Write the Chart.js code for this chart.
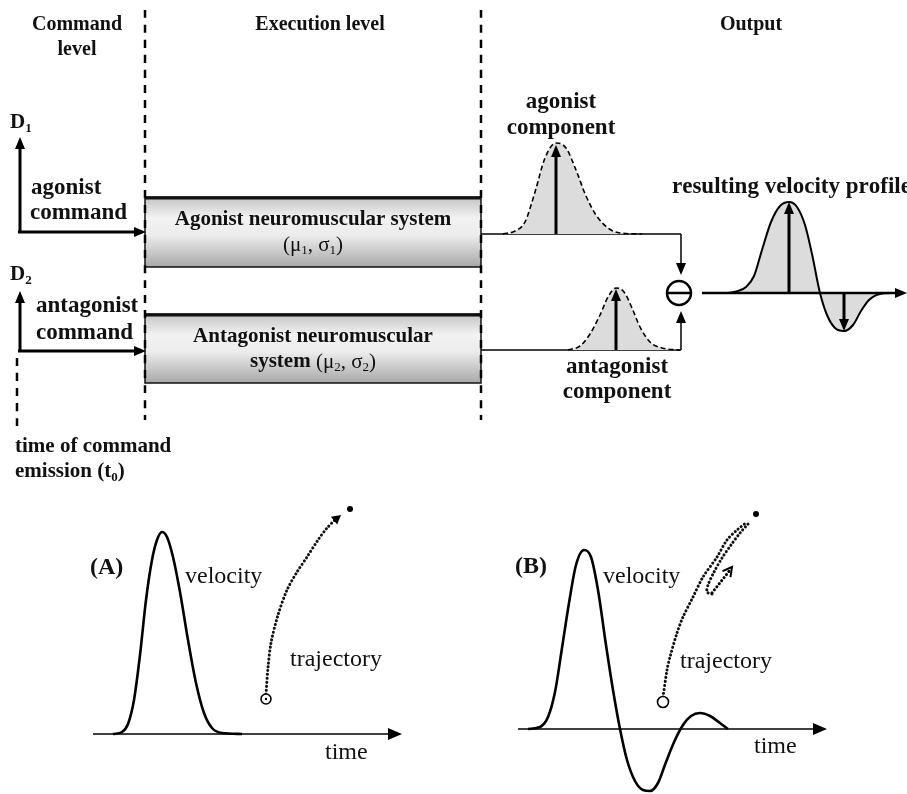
<!DOCTYPE html>
<html>
<head>
<meta charset="utf-8">
<script src="https://cdn.jsdelivr.net/npm/chart.js@4.4.1/dist/chart.umd.min.js"></script>
<style>
    html, body { margin: 0; padding: 0; background: #fff; }
    #diagram { display: block; }
</style>
</head>
<body>
<canvas id="diagram" width="907" height="794"></canvas>
<script>
// Curves, as [x, y] in page pixels (y grows downwards)
const agonistBell = [[503,234],[515,231],[525,222],[535,192],[545,158],[556,143],[566,148],[576,170],[586,196],[596,215],[608,228],[620,233],[642,234]];
const antagonistBell = [[568,350],[580,346],[590,334],[600,315],[608,297],[616,288],[624,292],[632,308],[640,327],[650,342],[662,348],[680,350]];
const resultProfile = [[728,293],[738,291],[746,287],[754,276],[762,250],[771,222],[780,206],[789,202],[797,207],[805,225],[812,254],[820,293],[827,315],[835,328],[844,331],[853,325],[861,311],[869,300],[880,294],[895,293]];
const velocityA = [[113,734],[122,732],[128,724],[134,700],[140,655],[146,600],[152,560],[157,540],[162,532],[167,537],[173,557],[180,592],[188,640],[196,683],[204,713],[212,728],[222,733],[242,734]];
const velocityB = [[528,729],[540,727],[548,717],[555,692],[562,648],[569,603],[576,565],[584,550],[591,557],[598,590],[606,645],[613,690],[620,729],[627,760],[635,781],[643,790],[650,791],[658,783],[666,762],[675,740],[683,725],[691,716],[700,713],[710,716],[720,723],[728,729]];
const trajectoryA = [[266,694],[268,668],[271,643],[278,615],[287,590],[297,572],[307,557],[318,540],[327,528],[338,517]];
const trajectoryB = [[663,697],[667,670],[670,657],[677,633],[683,617],[693,597],[703,577],[717,557],[727,540],[737,530],[747,522]];
const trajectoryBBack = [[748,524],[740,533],[731,545],[722,558],[714,572],[708,585],[707,592],[712,594]];

// Dashed level separators
const separators = [[[145,10],[145,420]], [[481,10],[481,420]], [[17,358],[17,432]]];
// Plain connector lines from the systems to the comparator
const connectors = [[[481,234],[681,234]], [[481,350],[681,350]]];

// Boxes: x1, y1, x2, y2
const boxes = [[145,197,481,267], [145,314,481,383]];

// Arrows: x1, y1, x2, y2, line width, head length, head half width
const arrows = [
    [20,233,20,137,3,12,5], [18,232,146,232,3,12,5],
    [20,352,20,291,3,12,5], [18,351,146,351,3,12,5],
    [681,234,681,275,1.5,12,5], [681,350,681,311,1.5,12,5],
    [556,234,556,145,3,12,5], [616,350,616,289,3,12,5],
    [789,293,789,202,3,12,5], [844,293,844,331,3,12,5],
    [702,293,907,293,2.5,12,5],
    [93,734,402,734,1.3,14,6], [518,729,827,729,1.3,14,6]
];
// Small heads at the end of dotted trajectories: tip, direction from
const trajHeads = [[341,515,330,524,'fill'], [732,567,722,580,'open']];

// Start / end points of trajectories: x, y, radius, kind
const markers = [[266,699,5,'ring-dot'], [350,509,3,'dot'], [663,702,5.5,'ring'], [756,514,3,'dot']];

// Texts: runs (_x = subscript x), x, y, font, align
const SERIF = '"Liberation Serif", "Times New Roman", serif';
const HEAD = 'bold 20px ' + SERIF;
const BOX = 'bold 21px ' + SERIF;
const BOXREG = '21px ' + SERIF;
const LABEL = 'bold 23px ' + SERIF;
const NOTE = 'bold 21px ' + SERIF;
const PLAIN = '24px ' + SERIF;
const PANEL = 'bold 24px ' + SERIF;
const texts = [
    ['Command', 77, 25, HEAD, 'center'], ['level', 77, 50, HEAD, 'center'],
    ['Execution level', 320, 25, HEAD, 'center'], ['Output', 751, 25, HEAD, 'center'],
    ['D_1', 10, 123, NOTE, 'left'], ['agonist', 31, 188, LABEL, 'left'], ['command', 30, 213, LABEL, 'left'],
    ['D_2', 10, 275, NOTE, 'left'], ['antagonist', 36, 306, LABEL, 'left'], ['command', 36, 333, LABEL, 'left'],
    ['time of command', 15, 447, NOTE, 'left'], ['emission (t_0)', 15, 472, NOTE, 'left'],
    ['Agonist neuromuscular system', 313, 220, BOX, 'center'], ['(μ_1, σ_1)', 313, 245, BOXREG, 'center'],
    ['Antagonist neuromuscular', 313, 337, BOX, 'center'],
    ['agonist', 561, 102, LABEL, 'center'], ['component', 561, 128, LABEL, 'center'],
    ['antagonist', 617, 367, LABEL, 'center'], ['component', 617, 392, LABEL, 'center'],
    ['resulting velocity profile', 672, 187, LABEL, 'left'],
    ['(A)', 90, 568, PANEL, 'left'], ['velocity', 185, 577, PLAIN, 'left'],
    ['trajectory', 290, 660, PLAIN, 'left'], ['time', 325, 753, PLAIN, 'left'],
    ['(B)', 515, 567, PANEL, 'left'], ['velocity', 603, 577, PLAIN, 'left'],
    ['trajectory', 680, 662, PLAIN, 'left'], ['time', 754, 747, PLAIN, 'left']
];
// Mixed-weight line in the antagonist box
const mixedLine = [['system ', BOX], ['(μ_2, σ_2)', BOXREG]];

document.addEventListener('DOMContentLoaded', function() {
    const ctxEl = document.getElementById('diagram');
    const pts = arr => arr.map(p => ({x: p[0], y: p[1]}));

    function curve(data, opts) {
        return Object.assign({
            data: pts(data),
            showLine: true,
            borderColor: '#000',
            borderWidth: 2.5,
            pointRadius: 0,
            fill: false,
            tension: 0.4,
            cubicInterpolationMode: 'monotone'
        }, opts || {});
    }

    const dotted = {borderWidth: 3, borderDash: [0.1, 3.8], borderCapStyle: 'round', tension: 0.3, cubicInterpolationMode: 'default', borderColor: '#111'};

    const datasets = [
        curve(agonistBell, {borderWidth: 1.6, borderDash: [5, 3], fill: {value: 234}, backgroundColor: '#dcdcdc'}),
        curve(antagonistBell, {borderWidth: 1.6, borderDash: [5, 3], fill: {value: 350}, backgroundColor: '#dcdcdc'}),
        curve(resultProfile, {borderWidth: 2, fill: {value: 293}, backgroundColor: '#dcdcdc'}),
        curve(velocityA, {borderWidth: 2.6}),
        curve(velocityB, {borderWidth: 2.6}),
        curve(trajectoryA, dotted),
        curve(trajectoryB, dotted),
        curve(trajectoryBBack, dotted)
    ];
    separators.forEach(s => datasets.push(curve(s, {borderWidth: 2.5, borderDash: [8, 7], tension: 0})));
    connectors.forEach(s => datasets.push(curve(s, {borderWidth: 1.5, tension: 0})));

    // Draws text with "_x" subscripts, returns width
    function richWidth(ctx, str, font) {
        let w = 0;
        const size = parseFloat(font.match(/(\d+)px/)[1]);
        for (let i = 0; i < str.length; i++) {
            if (str[i] === '_') {
                ctx.font = font.replace(/\d+px/, Math.round(size * 0.62) + 'px');
                w += ctx.measureText(str[++i]).width;
            } else {
                ctx.font = font;
                w += ctx.measureText(str[i]).width;
            }
        }
        return w;
    }
    function richDraw(ctx, str, font, x, y) {
        const size = parseFloat(font.match(/(\d+)px/)[1]);
        ctx.textAlign = 'left';
        ctx.textBaseline = 'middle';
        for (let i = 0; i < str.length; i++) {
            if (str[i] === '_') {
                ctx.font = font.replace(/\d+px/, Math.round(size * 0.62) + 'px');
                const ch = str[++i];
                ctx.fillText(ch, x, y + size * 0.28);
                x += ctx.measureText(ch).width;
            } else {
                ctx.font = font;
                ctx.fillText(str[i], x, y);
                x += ctx.measureText(str[i]).width;
            }
        }
        return x;
    }

    function arrow(ctx, x1, y1, x2, y2, lw, hl, hw) {
        const a = Math.atan2(y2 - y1, x2 - x1);
        const bx = x2 - hl * Math.cos(a), by = y2 - hl * Math.sin(a);
        ctx.lineWidth = lw;
        ctx.beginPath();
        ctx.moveTo(x1, y1);
        ctx.lineTo(bx + Math.cos(a), by + Math.sin(a));
        ctx.stroke();
        ctx.beginPath();
        ctx.moveTo(x2, y2);
        ctx.lineTo(bx - hw * Math.sin(a), by + hw * Math.cos(a));
        ctx.lineTo(bx + hw * Math.sin(a), by - hw * Math.cos(a));
        ctx.closePath();
        ctx.fill();
    }

    const diagramPlugin = {
        id: 'diagramParts',
        beforeDatasetsDraw(chart) {
            const {ctx, scales: {x, y}} = chart;
            ctx.save();
            boxes.forEach(b => {
                const x1 = x.getPixelForValue(b[0]), y1 = y.getPixelForValue(b[1]);
                const x2 = x.getPixelForValue(b[2]), y2 = y.getPixelForValue(b[3]);
                const g = ctx.createLinearGradient(0, y1, 0, y2);
                g.addColorStop(0, '#c4c4c4');
                g.addColorStop(0.3, '#f2f2f2');
                g.addColorStop(0.55, '#ececec');
                g.addColorStop(1, '#a8a8a8');
                ctx.fillStyle = g;
                ctx.fillRect(x1, y1, x2 - x1, y2 - y1);
                ctx.strokeStyle = '#111';
                ctx.lineWidth = 1.5;
                ctx.strokeRect(x1, y1, x2 - x1, y2 - y1);
                ctx.lineWidth = 3;
                ctx.beginPath();
                ctx.moveTo(x1, y1 + 1);
                ctx.lineTo(x2, y1 + 1);
                ctx.stroke();
            });
            ctx.restore();
        },
        afterDatasetsDraw(chart) {
            const {ctx, scales: {x, y}} = chart;
            const px = v => x.getPixelForValue(v), py = v => y.getPixelForValue(v);
            ctx.save();
            ctx.strokeStyle = '#000';
            ctx.fillStyle = '#000';
            ctx.lineCap = 'butt';

            arrows.forEach(a => arrow(ctx, px(a[0]), py(a[1]), px(a[2]), py(a[3]), a[4], a[5], a[6]));

            // Heads of the trajectory arrows
            trajHeads.forEach(h => {
                const tx = px(h[0]), ty = py(h[1]);
                const ang = Math.atan2(ty - py(h[3]), tx - px(h[2]));
                const l = 9, w = 5;
                const bx = tx - l * Math.cos(ang), by = ty - l * Math.sin(ang);
                ctx.beginPath();
                ctx.moveTo(bx - w * Math.sin(ang), by + w * Math.cos(ang));
                ctx.lineTo(tx, ty);
                ctx.lineTo(bx + w * Math.sin(ang), by - w * Math.cos(ang));
                ctx.lineWidth = 2;
                if (h[4] === 'fill') { ctx.closePath(); ctx.fill(); } else { ctx.stroke(); }
            });
            // Short dotted shaft of the return arrow in (B)
            ctx.setLineDash([0.1, 3.8]);
            ctx.lineCap = 'round';
            ctx.lineWidth = 3;
            ctx.beginPath();
            ctx.moveTo(px(712), py(593));
            ctx.lineTo(px(730), py(570));
            ctx.stroke();
            ctx.setLineDash([]);
            ctx.lineCap = 'butt';

            // Start / end markers
            markers.forEach(m => {
                ctx.beginPath();
                ctx.arc(px(m[0]), py(m[1]), m[2], 0, Math.PI * 2);
                if (m[3] === 'dot') {
                    ctx.fill();
                } else {
                    ctx.lineWidth = 1.6;
                    ctx.fillStyle = '#fff';
                    ctx.fill();
                    ctx.stroke();
                    ctx.fillStyle = '#000';
                    if (m[3] === 'ring-dot') {
                        ctx.beginPath();
                        ctx.arc(px(m[0]), py(m[1]), 1.2, 0, Math.PI * 2);
                        ctx.fill();
                    }
                }
            });

            // Comparator (minus in a circle)
            ctx.lineWidth = 2.5;
            ctx.beginPath();
            ctx.arc(px(679), py(293), 12, 0, Math.PI * 2);
            ctx.fillStyle = '#fff';
            ctx.fill();
            ctx.stroke();
            ctx.beginPath();
            ctx.moveTo(px(667), py(293));
            ctx.lineTo(px(691), py(293));
            ctx.stroke();
            ctx.fillStyle = '#111';

            // Labels
            texts.forEach(t => {
                let x0 = px(t[1]);
                if (t[4] === 'center') x0 -= richWidth(ctx, t[0], t[3]) / 2;
                richDraw(ctx, t[0], t[3], x0, py(t[2]));
            });
            const total = mixedLine.reduce((s, r) => s + richWidth(ctx, r[0], r[1]), 0);
            let cx = px(313) - total / 2;
            mixedLine.forEach(r => { cx = richDraw(ctx, r[0], r[1], cx, py(362)); });

            ctx.restore();
        }
    };

    new Chart(ctxEl, {
        type: 'scatter',
        data: {datasets: datasets},
        options: {
            responsive: false,
            animation: false,
            devicePixelRatio: 1,
            layout: {padding: 0},
            plugins: {legend: {display: false}, tooltip: {enabled: false}},
            scales: {
                x: {type: 'linear', min: 0, max: 907, display: false},
                y: {type: 'linear', min: 0, max: 794, reverse: true, display: false}
            }
        },
        plugins: [diagramPlugin]
    });
});
</script>
</body>
</html>
